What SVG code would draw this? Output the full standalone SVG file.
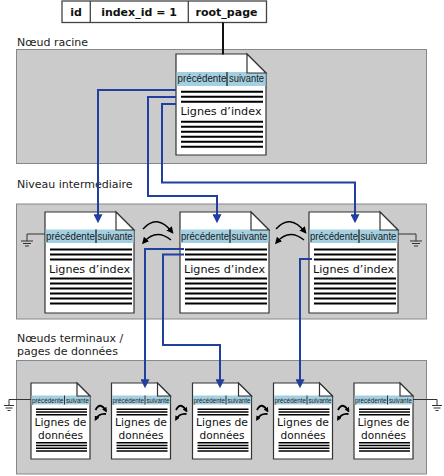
<svg xmlns="http://www.w3.org/2000/svg" width="444" height="476" viewBox="0 0 444 476">
<style>
.lvl{fill:#cbcbcb;stroke:#888;stroke-width:1}
.lab{font-family:"DejaVu Sans",Verdana,sans-serif;font-size:11px;fill:#222}
.pg{fill:#fff;stroke:#333;stroke-width:1.2}
.band{fill:#a3cfe1}
.hd{font-family:"Liberation Sans",Arial,sans-serif;font-size:11px;fill:#1a1a1a}
.hds{font-family:"Liberation Sans",Arial,sans-serif;font-size:7.5px;fill:#1a1a1a}
.div{stroke:#333;stroke-width:1.4}
.ln{stroke:#000;stroke-width:2}
.lns{stroke:#000;stroke-width:1.5}
.body{font-family:"DejaVu Sans",Verdana,sans-serif;font-size:11.2px;fill:#111;text-anchor:middle}
.bods{font-family:"DejaVu Sans",Verdana,sans-serif;font-size:10.5px;fill:#111;text-anchor:middle}
.tb{font-family:"DejaVu Sans",Verdana,sans-serif;font-size:11px;font-weight:bold;fill:#111;text-anchor:middle}
.blue{fill:none;stroke:#203f9f;stroke-width:2;marker-end:url(#ab)}
.curv{fill:none;stroke:#000;stroke-width:1.4;marker-end:url(#ak)}
.curs{fill:none;stroke:#000;stroke-width:1.8;marker-end:url(#aks)}
.gnd{fill:none;stroke:#333;stroke-width:1}
</style>
<defs>
<marker id="ab" markerUnits="userSpaceOnUse" markerWidth="9" markerHeight="9" viewBox="0 0 8 8" refX="6" refY="4" orient="auto"><path d="M0 0 L8 4 L0 8 Z" fill="#203f9f"/></marker>
<marker id="ak" markerUnits="userSpaceOnUse" markerWidth="7" markerHeight="7" viewBox="0 0 6 6" refX="4" refY="3" orient="auto"><path d="M0 0 L6 3 L0 6 Z" fill="#000"/></marker>
<marker id="aks" markerUnits="userSpaceOnUse" markerWidth="5" markerHeight="5" viewBox="0 0 6 6" refX="4" refY="3" orient="auto"><path d="M0 0 L6 3 L0 6 Z" fill="#000"/></marker>
</defs>

<!-- levels -->
<g id="levels">
<rect class="lvl" x="16.5" y="49.5" width="410" height="114"/>
<rect class="lvl" x="16.5" y="204" width="410" height="115"/>
<rect class="lvl" x="16.5" y="360.5" width="410" height="113.5"/>
<text class="lab" x="17" y="45.5">Nœud racine</text>
<text class="lab" x="17" y="187.5">Niveau intermediaire</text>
<text class="lab" x="17" y="342">Nœuds terminaux /</text>
<text class="lab" x="17" y="355">pages de données</text>
</g>

<!-- header table -->
<g id="table">
<rect x="62" y="1" width="204.5" height="21.5" fill="#fff" stroke="#444" stroke-width="1.3"/>
<line x1="90.3" y1="1" x2="90.3" y2="22.5" stroke="#444" stroke-width="1.3"/>
<line x1="188.3" y1="1" x2="188.3" y2="22.5" stroke="#444" stroke-width="1.3"/>
<text class="tb" x="76" y="15.5">id</text>
<text class="tb" x="139" y="15.5">index_id = 1</text>
<text class="tb" x="226.5" y="15.5">root_page</text>
</g>

<!-- root page -->
<g id="root" transform="translate(176,54)">
<path class="pg" d="M0 0 H71 L90 19 V101 H0 Z"/>
<rect class="band" x="0.6" y="18" width="89" height="14"/>
<path class="pg" d="M71 0 V19 H90 Z"/>
<text class="hd" transform="translate(1.5,28) scale(0.89,1)">précédente</text>
<line class="div" x1="51" y1="18" x2="51" y2="32"/>
<text class="hd" transform="translate(53,28) scale(0.854,1)">suivante</text>
<path class="ln" d="M5 37.7 H87 M5 42.7 H87 M5 47.7 H87"/>
<text class="body" x="45" y="61">Lignes d’index</text>
<path class="ln" d="M5 67.7 H87 M5 72.7 H87 M5 77.7 H87 M5 82.7 H87 M5 87.7 H87 M5 92.7 H87"/>
</g>

<!-- intermediate pages -->
<g id="mid1" transform="translate(45,212)">
<path class="pg" d="M0 0 H71 L89 18 V101 H0 Z"/>
<rect class="band" x="0.6" y="17.5" width="88" height="13.5"/>
<path class="pg" d="M71 0 V18 H89 Z"/>
<text class="hd" transform="translate(1,27.5) scale(0.89,1)">précédente</text>
<line class="div" x1="51" y1="17.5" x2="51" y2="31"/>
<text class="hd" transform="translate(52.5,27.5) scale(0.854,1)">suivante</text>
<path class="ln" d="M5 37.5 H87 M5 42.5 H87 M5 47.5 H87"/>
<text class="body" x="44.5" y="60.5">Lignes d’index</text>
<path class="ln" d="M5 66.5 H87 M5 71.5 H87 M5 76.5 H87 M5 81.5 H87 M5 86.5 H87 M5 91.5 H87"/>
</g>
<g id="mid2" transform="translate(180,212)">
<path class="pg" d="M0 0 H71 L89 18 V101 H0 Z"/>
<rect class="band" x="0.6" y="17.5" width="88" height="13.5"/>
<path class="pg" d="M71 0 V18 H89 Z"/>
<text class="hd" transform="translate(1,27.5) scale(0.873,1)">précédente</text>
<line class="div" x1="50" y1="17.5" x2="50" y2="31"/>
<text class="hd" transform="translate(51.5,27.5) scale(0.878,1)">suivante</text>
<path class="ln" d="M5 37.5 H87 M5 42.5 H87 M5 47.5 H87"/>
<text class="body" x="44.5" y="60.5">Lignes d’index</text>
<path class="ln" d="M5 66.5 H87 M5 71.5 H87 M5 76.5 H87 M5 81.5 H87 M5 86.5 H87 M5 91.5 H87"/>
</g>
<g id="mid3" transform="translate(309,212)">
<path class="pg" d="M0 0 H71 L89 18 V101 H0 Z"/>
<rect class="band" x="0.6" y="17.5" width="88" height="13.5"/>
<path class="pg" d="M71 0 V18 H89 Z"/>
<text class="hd" transform="translate(1,27.5) scale(0.873,1)">précédente</text>
<line class="div" x1="50" y1="17.5" x2="50" y2="31"/>
<text class="hd" transform="translate(51.5,27.5) scale(0.878,1)">suivante</text>
<path class="ln" d="M5 37.5 H87 M5 42.5 H87 M5 47.5 H87"/>
<text class="body" x="44.5" y="60.5">Lignes d’index</text>
<path class="ln" d="M5 66.5 H87 M5 71.5 H87 M5 76.5 H87 M5 81.5 H87 M5 86.5 H87 M5 91.5 H87"/>
</g>

<!-- leaf pages -->
<g id="leaf1" transform="translate(31,383)">
<path class="pg" d="M0 0 H46 L59 13 V76 H0 Z"/>
<rect class="band" x="0.6" y="12.5" width="58" height="9"/>
<path class="pg" d="M46 0 V13 H59 Z"/>
<text class="hds" transform="translate(1,19.5) scale(0.84,1)">précédente</text>
<line class="div" x1="33.5" y1="12.5" x2="33.5" y2="21.5" style="stroke-width:1"/>
<text class="hds" transform="translate(35,19.5) scale(0.82,1)">suivante</text>
<path class="lns" d="M5 26.3 H56 M5 29 H56 M5 31.7 H56"/>
<text class="bods" x="29.5" y="43.3" textLength="52" lengthAdjust="spacingAndGlyphs">Lignes de</text>
<text class="bods" x="29.5" y="55.7" textLength="45" lengthAdjust="spacingAndGlyphs">données</text>
<path class="lns" d="M5 59.8 H56 M5 62.5 H56 M5 65.2 H56 M5 67.9 H56"/>
</g>
<g id="leaf2" transform="translate(111.5,383)">
<path class="pg" d="M0 0 H46 L59 13 V76 H0 Z"/>
<rect class="band" x="0.6" y="12.5" width="58" height="9"/>
<path class="pg" d="M46 0 V13 H59 Z"/>
<text class="hds" transform="translate(1,19.5) scale(0.84,1)">précédente</text>
<line class="div" x1="33.5" y1="12.5" x2="33.5" y2="21.5" style="stroke-width:1"/>
<text class="hds" transform="translate(35,19.5) scale(0.82,1)">suivante</text>
<path class="lns" d="M5 26.3 H56 M5 29 H56 M5 31.7 H56"/>
<text class="bods" x="29.5" y="43.3" textLength="52" lengthAdjust="spacingAndGlyphs">Lignes de</text>
<text class="bods" x="29.5" y="55.7" textLength="45" lengthAdjust="spacingAndGlyphs">données</text>
<path class="lns" d="M5 59.8 H56 M5 62.5 H56 M5 65.2 H56 M5 67.9 H56"/>
</g>
<g id="leaf3" transform="translate(192.5,383)">
<path class="pg" d="M0 0 H46 L59 13 V76 H0 Z"/>
<rect class="band" x="0.6" y="12.5" width="58" height="9"/>
<path class="pg" d="M46 0 V13 H59 Z"/>
<text class="hds" transform="translate(1,19.5) scale(0.84,1)">précédente</text>
<line class="div" x1="33.5" y1="12.5" x2="33.5" y2="21.5" style="stroke-width:1"/>
<text class="hds" transform="translate(35,19.5) scale(0.82,1)">suivante</text>
<path class="lns" d="M5 26.3 H56 M5 29 H56 M5 31.7 H56"/>
<text class="bods" x="29.5" y="43.3" textLength="52" lengthAdjust="spacingAndGlyphs">Lignes de</text>
<text class="bods" x="29.5" y="55.7" textLength="45" lengthAdjust="spacingAndGlyphs">données</text>
<path class="lns" d="M5 59.8 H56 M5 62.5 H56 M5 65.2 H56 M5 67.9 H56"/>
</g>
<g id="leaf4" transform="translate(273.5,383)">
<path class="pg" d="M0 0 H46 L59 13 V76 H0 Z"/>
<rect class="band" x="0.6" y="12.5" width="58" height="9"/>
<path class="pg" d="M46 0 V13 H59 Z"/>
<text class="hds" transform="translate(1,19.5) scale(0.84,1)">précédente</text>
<line class="div" x1="33.5" y1="12.5" x2="33.5" y2="21.5" style="stroke-width:1"/>
<text class="hds" transform="translate(35,19.5) scale(0.82,1)">suivante</text>
<path class="lns" d="M5 26.3 H56 M5 29 H56 M5 31.7 H56"/>
<text class="bods" x="29.5" y="43.3" textLength="52" lengthAdjust="spacingAndGlyphs">Lignes de</text>
<text class="bods" x="29.5" y="55.7" textLength="45" lengthAdjust="spacingAndGlyphs">données</text>
<path class="lns" d="M5 59.8 H56 M5 62.5 H56 M5 65.2 H56 M5 67.9 H56"/>
</g>
<g id="leaf5" transform="translate(354,383)">
<path class="pg" d="M0 0 H46 L59 13 V76 H0 Z"/>
<rect class="band" x="0.6" y="12.5" width="58" height="9"/>
<path class="pg" d="M46 0 V13 H59 Z"/>
<text class="hds" transform="translate(1,19.5) scale(0.84,1)">précédente</text>
<line class="div" x1="33.5" y1="12.5" x2="33.5" y2="21.5" style="stroke-width:1"/>
<text class="hds" transform="translate(35,19.5) scale(0.82,1)">suivante</text>
<path class="lns" d="M5 26.3 H56 M5 29 H56 M5 31.7 H56"/>
<text class="bods" x="29.5" y="43.3" textLength="52" lengthAdjust="spacingAndGlyphs">Lignes de</text>
<text class="bods" x="29.5" y="55.7" textLength="45" lengthAdjust="spacingAndGlyphs">données</text>
<path class="lns" d="M5 59.8 H56 M5 62.5 H56 M5 65.2 H56 M5 67.9 H56"/>
</g>

<!-- connectors -->
<g id="connectors">
<line x1="223" y1="22.5" x2="223" y2="54.5" stroke="#111" stroke-width="2"/>
<path class="blue" d="M176 90 H98 V221"/>
<path class="blue" d="M176 97 H148 V196 H217 V221"/>
<path class="blue" d="M176 104 H162 V182.5 H355 V221"/>
<path class="blue" d="M184 249 H145 V386"/>
<path class="blue" d="M184 254.5 H163 V345 H220 V386"/>
<path class="blue" d="M312 259 H300 V386"/>
<path class="curv" d="M143 229 Q157 213 172 232"/>
<path class="curv" d="M171 240 Q156 228 143.5 242.5"/>
<path class="curv" d="M276 229 Q290 213 305 232"/>
<path class="curv" d="M304 240 Q289 228 276.5 242.5"/>
<path class="curs" d="M95.5 410 Q100 401 106 411"/>
<path class="curs" d="M106 414 Q99 413 95.5 419.5"/>
<path class="curs" d="M176 410 Q180.5 401 186.5 411"/>
<path class="curs" d="M186.5 414 Q179.5 413 176 419.5"/>
<path class="curs" d="M257 410 Q261.5 401 267.5 411"/>
<path class="curs" d="M267.5 414 Q260.5 413 257 419.5"/>
<path class="curs" d="M338 410 Q342.5 401 348.5 411"/>
<path class="curs" d="M348.5 414 Q341.5 413 338 419.5"/>
<path class="gnd" d="M45 234 H27 V241 M21 241 H33 M23 243.5 H31 M25 246 H29"/>
<path class="gnd" d="M398 234 H416 V241 M410 241 H422 M412 243.5 H420 M414 246 H418"/>
<path class="gnd" d="M31 399.5 H9 V405.5 M4 405.5 H14 M5.5 408 H12.5 M7.5 410.5 H10.5"/>
<path class="gnd" d="M413 399.5 H437 V405.5 M432 405.5 H442 M433.5 408 H440.5 M435.5 410.5 H438.5"/>
</g>
</svg>
